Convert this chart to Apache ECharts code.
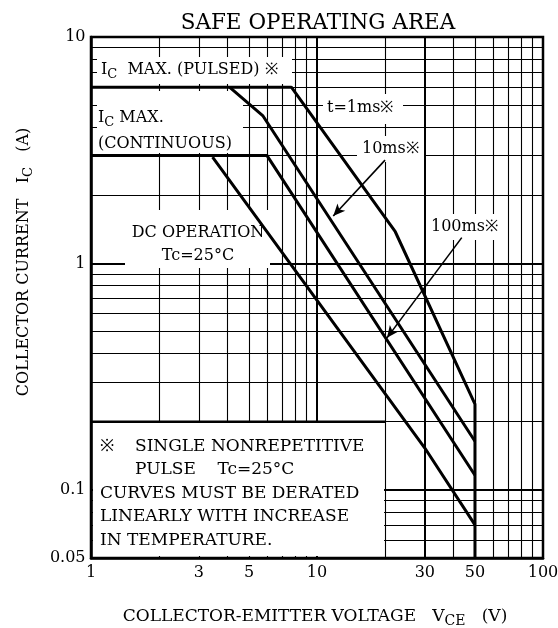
<!DOCTYPE html>
<html>
<head>
<meta charset="utf-8">
<script src="https://cdn.jsdelivr.net/npm/echarts@6/dist/echarts.min.js"></script>
<style>
  html, body { margin: 0; padding: 0; background: #fff; }
  #main { width: 558px; height: 628px; }
</style>
</head>
<body>
<div id="main"></div>
<script>
// axis ticks / grid lines
var xTicks = [1, 3, 5, 10, 30, 50, 100];
var yTicks = [0.05, 0.1, 1, 10];
var xGridVals = [2, 3, 4, 5, 6, 7, 8, 9, 10, 20, 30, 40, 50, 60, 70, 80, 90];
var yGridVals = [0.06, 0.07, 0.08, 0.09, 0.1, 0.2, 0.3, 0.4, 0.5, 0.6, 0.7, 0.8, 0.9, 1, 2, 3, 4, 5, 6, 7, 8, 9];
var heavyX = [10, 30];
var heavyY = [0.1, 1];

// curves: [VCE (V), IC (A)]
var pulse1ms = [[1, 6], [7.7, 6], [22.2, 1.38], [50, 0.239], [50, 0.05]];
var pulse10ms = [[4.1, 6], [5.75, 4.5], [50, 0.164]];
var pulse100ms = [[1, 3], [6, 3], [50, 0.116]];
var dcOp = [[3.45, 2.95], [30, 0.153], [50, 0.07]];

// pointer arrows
var arrow10ms = [[20, 2.86], [11.8, 1.62]];
var arrow100ms = [[43.7, 1.30], [20.4, 0.469]];

var FONT = '"DejaVu Serif", "Liberation Serif", serif';
var INK = '#000';

var gridLines = [];
xGridVals.forEach(function (v) {
    gridLines.push({
        coords: [[v, 0.05], [v, 10]],
        lineStyle: { width: heavyX.indexOf(v) >= 0 ? 2 : 1.1 }
    });
});
yGridVals.forEach(function (v) {
    gridLines.push({
        coords: [[1, v], [100, v]],
        lineStyle: { width: heavyY.indexOf(v) >= 0 ? 2 : 1.1 }
    });
});

function curve(name, data) {
    return {
        name: name,
        type: 'line',
        z: 5,
        data: data,
        symbol: 'none',
        lineStyle: { color: '#000', width: 3 },
        silent: true
    };
}

function rich(size) {
    return {
        n: { fontFamily: FONT, fontSize: size, color: INK },
        s: { fontFamily: FONT, fontSize: size - 3, color: INK, padding: [9, 0, 0, 0] }
    };
}

var option = {
    animation: false,
    backgroundColor: '#fff',
    title: {
        text: 'SAFE OPERATING AREA',
        left: 313,
        top: 7,
        textAlign: 'center',
        textStyle: { fontFamily: FONT, fontSize: 21.5, fontWeight: 'normal', color: INK }
    },
    grid: {
        left: 91, top: 37, width: 452, height: 521,
        show: true, borderColor: '#000', borderWidth: 2.5, backgroundColor: '#fff'
    },
    xAxis: {
        type: 'log', logBase: 10, min: 1, max: 100,
        axisLine: { show: true, lineStyle: { color: '#000', width: 2.5 } },
        axisTick: { show: false },
        axisLabel: { show: false },
        splitLine: { show: false }
    },
    yAxis: {
        type: 'log', logBase: 10, min: 0.05, max: 10,
        axisLine: { show: true, lineStyle: { color: '#000', width: 2.5 } },
        axisTick: { show: false },
        axisLabel: { show: false },
        splitLine: { show: false }
    },
    series: [
        {
            name: 'grid',
            type: 'lines',
            coordinateSystem: 'cartesian2d',
            z: 1,
            silent: true,
            lineStyle: { color: '#000', width: 1, opacity: 1 },
            data: gridLines
        },
        {
            name: 'xTickLabels',
            type: 'scatter',
            z: 6,
            symbolSize: 1,
            itemStyle: { color: 'rgba(0,0,0,0)', opacity: 1 },
            data: xTicks.map(function (v) { return [v, 0.05]; }),
            label: {
                show: true, position: 'bottom', distance: 6, opacity: 1,
                fontFamily: FONT, fontSize: 16, color: INK,
                formatter: function (p) { return String(p.value[0]); }
            },
            silent: true
        },
        {
            name: 'yTickLabels',
            type: 'scatter',
            z: 6,
            symbolSize: 1,
            itemStyle: { color: 'rgba(0,0,0,0)', opacity: 1 },
            data: yTicks.map(function (v) { return [1, v]; }),
            label: {
                show: true, position: 'left', distance: 5, opacity: 1,
                fontFamily: FONT, fontSize: 16, color: INK,
                formatter: function (p) { return String(p.value[1]); }
            },
            silent: true
        },
        curve('1ms', pulse1ms),
        curve('10ms', pulse10ms),
        curve('100ms', pulse100ms),
        Object.assign(curve('DC', dcOp), {
            markLine: {
                silent: true,
                symbol: ['none', 'arrow'],
                symbolSize: [8, 12],
                label: { show: false },
                lineStyle: { color: '#000', width: 1.6, type: 'solid' },
                data: [
                    [{ coord: arrow10ms[0] }, { coord: arrow10ms[1] }],
                    [{ coord: arrow100ms[0] }, { coord: arrow100ms[1] }]
                ]
            }
        })
    ]
};

var chart = echarts.init(document.getElementById('main'));
chart.setOption(option);

// white label boxes (hide the grid behind the texts)
var nb0 = chart.convertToPixel({ gridIndex: 0 }, [1, 0.05]);
var nb1 = chart.convertToPixel({ gridIndex: 0 }, [20, 0.2]);

function box(x0, y0, x1, y1) {
    return { type: 'rect', z: 3, silent: true, shape: { x: x0, y: y0, width: x1 - x0, height: y1 - y0 }, style: { fill: '#fff' } };
}
function txt(x, y, text, align, size, rot) {
    size = size || 16;
    return {
        type: 'text', z: 7, silent: true, x: x, y: y, rotation: rot || 0,
        style: {
            text: text, fill: INK, font: size + 'px ' + FONT,
            align: align || 'left', verticalAlign: 'middle',
            textAlign: align || 'left', textVerticalAlign: 'middle',
            rich: rich(size)
        }
    };
}

var elements = [
    box(97, 57, 292, 84),
    box(97, 91, 243, 153),
    box(125, 210, 270, 268),
    box(323, 94, 403, 124),
    box(357, 136, 424, 162),
    box(428, 214, 500, 240),
    box(nb0[0] + 2, nb1[1], nb1[0] - 1, nb0[1] - 2),
    {
        type: 'line', z: 4, silent: true,
        shape: { x1: nb0[0], y1: nb1[1], x2: nb1[0], y2: nb1[1] },
        style: { stroke: '#000', lineWidth: 2.5 }
    },
    txt(101, 70, '{n|I}{s|C}{n|  MAX. (PULSED) ※}'),
    txt(98, 118, '{n|I}{s|C}{n| MAX.}'),
    txt(98, 144, '(CONTINUOUS)'),
    txt(198, 233, 'DC OPERATION', 'center'),
    txt(198, 256, 'Tc=25°C', 'center'),
    txt(327, 108, 't=1ms※'),
    txt(362, 149, '10ms※'),
    txt(431, 227, '100ms※'),
    txt(100, 447, '※', 'left', 17),
    txt(135, 447, 'SINGLE NONREPETITIVE', 'left', 17),
    txt(135, 470, 'PULSE    Tc=25°C', 'left', 17),
    txt(100, 494, 'CURVES MUST BE DERATED', 'left', 17),
    txt(100, 517, 'LINEARLY WITH INCREASE', 'left', 17),
    txt(100, 541, 'IN TEMPERATURE.', 'left', 17),
    txt(315, 617, '{n|COLLECTOR-EMITTER VOLTAGE   V}{s|CE}{n|   (V)}', 'center', 17),
    txt(24, 262, '{n|COLLECTOR CURRENT   I}{s|C}{n|   (A)}', 'center', 16, Math.PI / 2)
];

chart.setOption({ graphic: { elements: elements } });
</script>
</body>
</html>
